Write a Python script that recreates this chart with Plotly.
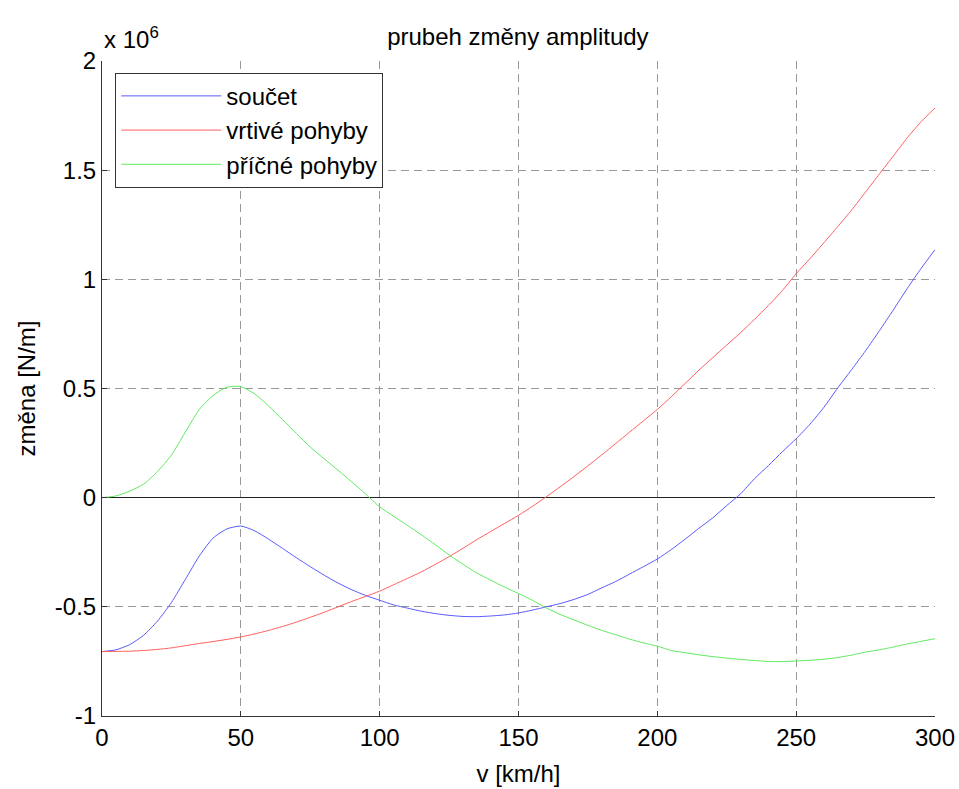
import plotly.graph_objects as go

v = list(range(0, 301, 5))

# values in units of 10^6 N/m
soucet = [-0.705, -0.697, -0.673, -0.630, -0.565, -0.480, -0.375, -0.268, -0.185, -0.143,
          -0.130, -0.152, -0.190, -0.232, -0.275, -0.316, -0.355, -0.391, -0.422, -0.448,
          -0.470, -0.491, -0.506, -0.520, -0.531, -0.539, -0.544, -0.545, -0.542, -0.537,
          -0.528, -0.515, -0.500, -0.485, -0.466, -0.443, -0.413, -0.384, -0.350, -0.316,
          -0.281, -0.238, -0.190, -0.140, -0.092, -0.036, 0.018, 0.087, 0.147, 0.210,
          0.270, 0.337, 0.414, 0.503, 0.587, 0.673, 0.765, 0.860, 0.958, 1.050, 1.136]

vrtive = [-0.705, -0.704, -0.703, -0.700, -0.695, -0.688, -0.678, -0.668, -0.659, -0.649,
          -0.638, -0.624, -0.608, -0.590, -0.570, -0.548, -0.525, -0.500, -0.475, -0.452,
          -0.428, -0.399, -0.370, -0.340, -0.306, -0.270, -0.232, -0.192, -0.155, -0.118,
          -0.081, -0.040, 0.004, 0.050, 0.097, 0.146, 0.196, 0.248, 0.300, 0.352,
          0.404, 0.462, 0.523, 0.584, 0.642, 0.699, 0.756, 0.817, 0.880, 0.948,
          1.026, 1.095, 1.168, 1.242, 1.318, 1.400, 1.483, 1.565, 1.648, 1.722, 1.785]

pricne = [0.000, 0.008, 0.030, 0.062, 0.120, 0.195, 0.300, 0.403, 0.468, 0.506,
          0.509, 0.475, 0.420, 0.358, 0.294, 0.232, 0.178, 0.126, 0.072, 0.016,
          -0.042, -0.085, -0.127, -0.170, -0.215, -0.262, -0.305, -0.345, -0.378, -0.410,
          -0.439, -0.470, -0.505, -0.535, -0.560, -0.585, -0.608, -0.628, -0.648, -0.665,
          -0.680, -0.700, -0.710, -0.720, -0.728, -0.735, -0.741, -0.746, -0.750, -0.751,
          -0.748, -0.745, -0.740, -0.732, -0.721, -0.707, -0.697, -0.684, -0.670, -0.658, -0.646]

x_ticks = [0, 50, 100, 150, 200, 250, 300]
y_ticks = [-1, -0.5, 0, 0.5, 1, 1.5, 2]
y_ticklabels = ["-1", "-0.5", "0", "0.5", "1", "1.5", "2"]

FONT = "Liberation Sans, Arial, sans-serif"
FS = 24

fig = go.Figure()
for name, ys, col in [("součet", soucet, "rgb(90,90,255)"),
                      ("vrtivé pohyby", vrtive, "rgb(255,95,95)"),
                      ("příčné pohyby", pricne, "rgb(95,235,95)")]:
    fig.add_trace(go.Scatter(x=v, y=ys, mode="lines", name=name,
                             line=dict(color=col, width=1, shape="spline", smoothing=0.6)))

fig.update_layout(
    width=959, height=789,
    margin=dict(l=102, r=24, t=61, b=73),
    paper_bgcolor="white", plot_bgcolor="white",
    font=dict(family=FONT, size=FS, color="black"),
    title=dict(text="prubeh změny amplitudy", x=0.54, xanchor="center",
               y=1 - 37 / 789, yanchor="middle", yref="container",
               font=dict(family=FONT, size=FS, color="black")),
    showlegend=True,
    legend=dict(x=0.016, y=0.982, xanchor="left", yanchor="top",
                bgcolor="white", bordercolor="#333", borderwidth=1,
                font=dict(family=FONT, size=FS, color="black"),
                itemwidth=100, tracegroupgap=0),
    xaxis=dict(range=[0, 300], tickvals=x_ticks, ticks="inside", ticklen=5,
               tickcolor="#333", showline=True, linecolor="#333", linewidth=1,
               mirror=False, showgrid=True, gridcolor="#999", griddash="8px,5px",
               gridwidth=1, zeroline=False, tickfont=dict(size=FS), automargin=False,
               title=dict(text="v [km/h]", standoff=15, font=dict(size=FS))),
    yaxis=dict(range=[-1, 2], tickvals=y_ticks, ticktext=y_ticklabels,
               ticks="inside", ticklen=5, tickcolor="#333",
               showline=True, linecolor="#333", linewidth=1, mirror=False,
               showgrid=True, gridcolor="#999", griddash="8px,5px", gridwidth=1,
               zeroline=True, zerolinecolor="#222", zerolinewidth=1,
               tickfont=dict(size=FS), automargin=False,
               title=dict(text="změna [N/m]", standoff=12, font=dict(size=FS))),
)

fig.add_annotation(text="x 10<sup>6</sup>", xref="paper", yref="paper",
                   x=0.0, y=1.0, xanchor="left", yanchor="bottom", yshift=6,
                   showarrow=False, font=dict(family=FONT, size=FS, color="black"))

fig.write_html("out.html")
